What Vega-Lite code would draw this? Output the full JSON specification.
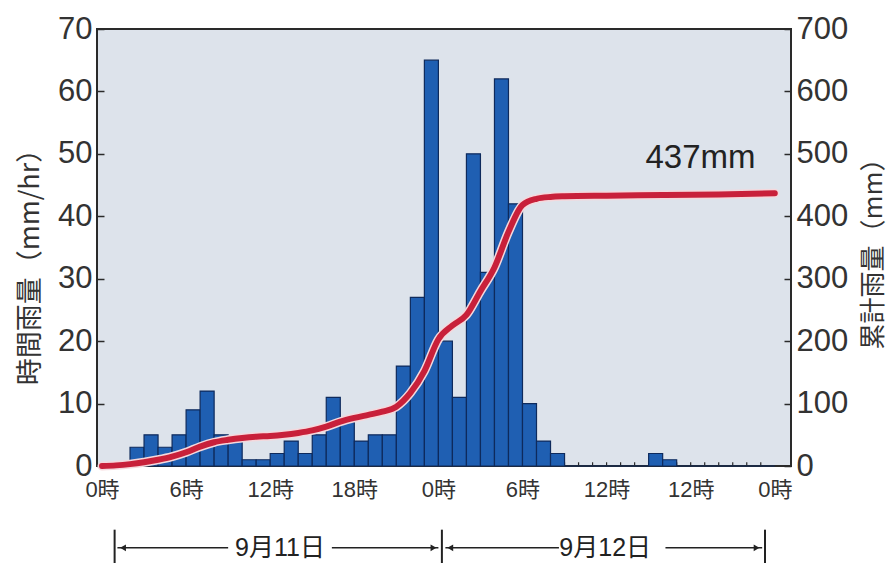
{
  "$schema": "https://vega.github.io/schema/vega-lite/v6.json",
  "width": 694,
  "height": 437,
  "autosize": {"type": "none"},
  "padding": {"left": 97, "top": 29, "right": 98, "bottom": 97},
  "background": "white",
  "config": {
    "view": {"stroke": "#2a2a2a", "strokeWidth": 2, "fill": "#dde3eb"},
    "font": "Liberation Sans, Noto Sans CJK JP",
    "axis": {"labelColor": "#333333", "titleColor": "#333333", "grid": false, "domain": false}
  },
  "datasets": {
    "hourly": [
      {"hour": 0, "hour_end": 1, "rain": 0}, {"hour": 1, "hour_end": 2, "rain": 0},
      {"hour": 2, "hour_end": 3, "rain": 3}, {"hour": 3, "hour_end": 4, "rain": 5},
      {"hour": 4, "hour_end": 5, "rain": 3}, {"hour": 5, "hour_end": 6, "rain": 5},
      {"hour": 6, "hour_end": 7, "rain": 9}, {"hour": 7, "hour_end": 8, "rain": 12},
      {"hour": 8, "hour_end": 9, "rain": 5}, {"hour": 9, "hour_end": 10, "rain": 4},
      {"hour": 10, "hour_end": 11, "rain": 1}, {"hour": 11, "hour_end": 12, "rain": 1},
      {"hour": 12, "hour_end": 13, "rain": 2}, {"hour": 13, "hour_end": 14, "rain": 4},
      {"hour": 14, "hour_end": 15, "rain": 2}, {"hour": 15, "hour_end": 16, "rain": 5},
      {"hour": 16, "hour_end": 17, "rain": 11}, {"hour": 17, "hour_end": 18, "rain": 7},
      {"hour": 18, "hour_end": 19, "rain": 4}, {"hour": 19, "hour_end": 20, "rain": 5},
      {"hour": 20, "hour_end": 21, "rain": 5}, {"hour": 21, "hour_end": 22, "rain": 16},
      {"hour": 22, "hour_end": 23, "rain": 27}, {"hour": 23, "hour_end": 24, "rain": 65},
      {"hour": 24, "hour_end": 25, "rain": 20}, {"hour": 25, "hour_end": 26, "rain": 11},
      {"hour": 26, "hour_end": 27, "rain": 50}, {"hour": 27, "hour_end": 28, "rain": 31},
      {"hour": 28, "hour_end": 29, "rain": 62}, {"hour": 29, "hour_end": 30, "rain": 42},
      {"hour": 30, "hour_end": 31, "rain": 10}, {"hour": 31, "hour_end": 32, "rain": 4},
      {"hour": 32, "hour_end": 33, "rain": 2}, {"hour": 33, "hour_end": 34, "rain": 0},
      {"hour": 34, "hour_end": 35, "rain": 0}, {"hour": 35, "hour_end": 36, "rain": 0},
      {"hour": 36, "hour_end": 37, "rain": 0}, {"hour": 37, "hour_end": 38, "rain": 0},
      {"hour": 38, "hour_end": 39, "rain": 0}, {"hour": 39, "hour_end": 40, "rain": 2},
      {"hour": 40, "hour_end": 41, "rain": 1}, {"hour": 41, "hour_end": 42, "rain": 0},
      {"hour": 42, "hour_end": 43, "rain": 0}, {"hour": 43, "hour_end": 44, "rain": 0},
      {"hour": 44, "hour_end": 45, "rain": 0}, {"hour": 45, "hour_end": 46, "rain": 0},
      {"hour": 46, "hour_end": 47, "rain": 0}, {"hour": 47, "hour_end": 48, "rain": 0}
    ],
    "cumulative": [
      {"hour": 0, "cum": 0}, {"hour": 1, "cum": 1}, {"hour": 2, "cum": 3}, {"hour": 3, "cum": 6},
      {"hour": 4, "cum": 10}, {"hour": 5, "cum": 15}, {"hour": 6, "cum": 22}, {"hour": 7, "cum": 31},
      {"hour": 8, "cum": 38}, {"hour": 9, "cum": 42}, {"hour": 10, "cum": 45}, {"hour": 11, "cum": 47},
      {"hour": 12, "cum": 48}, {"hour": 13, "cum": 50}, {"hour": 14, "cum": 53}, {"hour": 15, "cum": 57},
      {"hour": 16, "cum": 63}, {"hour": 17, "cum": 71}, {"hour": 18, "cum": 77}, {"hour": 19, "cum": 82},
      {"hour": 20, "cum": 87}, {"hour": 21, "cum": 95}, {"hour": 22, "cum": 117}, {"hour": 23, "cum": 152},
      {"hour": 24, "cum": 203}, {"hour": 25, "cum": 225}, {"hour": 26, "cum": 242}, {"hour": 27, "cum": 280},
      {"hour": 28, "cum": 318}, {"hour": 29, "cum": 375}, {"hour": 30, "cum": 418}, {"hour": 31, "cum": 428},
      {"hour": 32, "cum": 431}, {"hour": 33, "cum": 432}, {"hour": 36, "cum": 433}, {"hour": 40, "cum": 434},
      {"hour": 44, "cum": 435}, {"hour": 48, "cum": 437}
    ],
    "total": [{"hour": 42.7, "cum": 493, "label": "437mm"}],
    "day_lines": [
      {"from": 1.1, "to": 9.0}, {"from": 16.4, "to": 24.0},
      {"from": 24.5, "to": 32.6}, {"from": 40.2, "to": 47.1}
    ],
    "day_bounds": [{"hour": 0.9}, {"hour": 24.25}, {"hour": 47.3}],
    "day_heads": [
      {"hour": 1.5, "dir": "left"}, {"hour": 23.65, "dir": "right"},
      {"hour": 24.85, "dir": "left"}, {"hour": 46.7, "dir": "right"}
    ],
    "day_labels": [{"hour": 12.7, "day": "9月11日"}, {"hour": 35.9, "day": "9月12日"}]
  },
  "layer": [
    {
      "layer": [
        {
          "data": {"name": "hourly"},
          "mark": {"type": "rule", "color": "#2a2a2a", "strokeWidth": 1.2},
          "encoding": {
            "x": {
              "field": "hour", "type": "quantitative",
              "scale": {"domain": [0, 48.8], "nice": false, "zero": false},
              "axis": {
                "values": [0, 6, 12, 18, 24, 30, 36, 42, 48],
                "labelExpr": "datum.value == 42 ? '12時' : (datum.value % 24) + '時'",
                "ticks": false, "labelPadding": 13, "labelFontSize": 22, "title": null,
                "labelFlush": false
              }
            },
            "y": {
              "datum": 0,
              "scale": {"domain": [0, 70], "nice": false},
              "axis": {
                "values": [0, 10, 20, 30, 40, 50, 60, 70],
                "tickSize": -7, "tickColor": "#2a2a2a", "tickWidth": 1.5,
                "labelPadding": 12, "labelFontSize": 31, "labelFlush": false,
                "title": "時間雨量（mm/hr）", "titleFont": "Noto Sans CJK JP",
                "titleFontSize": 27, "titleFontWeight": "normal",
                "titleAngle": -90, "titleBaseline": "middle", "titleAlign": "center",
                "titleX": -67, "titleY": 231
              }
            },
            "y2": {"datum": 0.6}
          }
        },
        {
          "data": {"name": "hourly"},
          "mark": {"type": "bar", "orient": "vertical", "fill": "#1f5fb2", "stroke": "#0e2a5c", "strokeWidth": 1.2},
          "encoding": {
            "x": {"field": "hour", "type": "quantitative"},
            "x2": {"field": "hour_end"},
            "y": {"field": "rain", "type": "quantitative", "scale": {"domain": [0, 70], "nice": false}},
            "y2": {"datum": 0}
          }
        },
        {
          "data": {"name": "day_lines"},
          "mark": {"type": "rule", "color": "#222222", "strokeWidth": 1.5},
          "encoding": {
            "x": {"field": "from", "type": "quantitative"},
            "x2": {"field": "to"},
            "y": {"datum": -13.1, "scale": {"domain": [0, 70], "nice": false}}
          }
        },
        {
          "data": {"name": "day_bounds"},
          "mark": {"type": "rule", "color": "#222222", "strokeWidth": 2},
          "encoding": {
            "x": {"field": "hour", "type": "quantitative"},
            "y": {"datum": -10.2, "scale": {"domain": [0, 70], "nice": false}},
            "y2": {"datum": -15.8}
          }
        },
        {
          "data": {"name": "day_heads"},
          "mark": {"type": "point", "filled": true, "color": "#222222", "opacity": 1, "size": 45},
          "encoding": {
            "x": {"field": "hour", "type": "quantitative"},
            "y": {"datum": -13.1, "scale": {"domain": [0, 70], "nice": false}},
            "shape": {
              "field": "dir", "type": "nominal",
              "scale": {"domain": ["left", "right"], "range": ["triangle-left", "triangle-right"]},
              "legend": null
            }
          }
        },
        {
          "data": {"name": "day_labels"},
          "mark": {"type": "text", "fontSize": 25, "color": "#222222", "baseline": "middle", "align": "center"},
          "encoding": {
            "x": {"field": "hour", "type": "quantitative"},
            "y": {"datum": -13.1, "scale": {"domain": [0, 70], "nice": false}},
            "text": {"field": "day"}
          }
        }
      ]
    },
    {
      "layer": [
        {
          "data": {"name": "cumulative"},
          "mark": {"type": "line", "color": "#f5d8dc", "strokeWidth": 9, "interpolate": "monotone", "strokeCap": "round"},
          "encoding": {
            "x": {"field": "hour", "type": "quantitative"},
            "y": {
              "field": "cum", "type": "quantitative",
              "scale": {"domain": [0, 700], "nice": false},
              "axis": {
                "orient": "right",
                "values": [0, 100, 200, 300, 400, 500, 600, 700],
                "tickSize": -7, "tickColor": "#2a2a2a", "tickWidth": 1.5,
                "labelPadding": 12, "labelFontSize": 31, "labelFlush": false,
                "title": "累計雨量（mm）", "titleFont": "Noto Sans CJK JP",
                "titleFontSize": 26, "titleFontWeight": "normal",
                "titleAngle": -90, "titleBaseline": "middle", "titleAlign": "center",
                "titleX": 82, "titleY": 218
              }
            }
          }
        },
        {
          "data": {"name": "cumulative"},
          "mark": {"type": "line", "color": "#c8203a", "strokeWidth": 6, "interpolate": "monotone", "strokeCap": "round"},
          "encoding": {
            "x": {"field": "hour", "type": "quantitative"},
            "y": {"field": "cum", "type": "quantitative", "scale": {"domain": [0, 700], "nice": false}}
          }
        },
        {
          "data": {"name": "total"},
          "mark": {"type": "text", "fontSize": 33, "color": "#222222", "baseline": "middle", "align": "center"},
          "encoding": {
            "x": {"field": "hour", "type": "quantitative"},
            "y": {"field": "cum", "type": "quantitative", "scale": {"domain": [0, 700], "nice": false}},
            "text": {"field": "label"}
          }
        }
      ]
    }
  ],
  "resolve": {"scale": {"y": "independent"}}
}
